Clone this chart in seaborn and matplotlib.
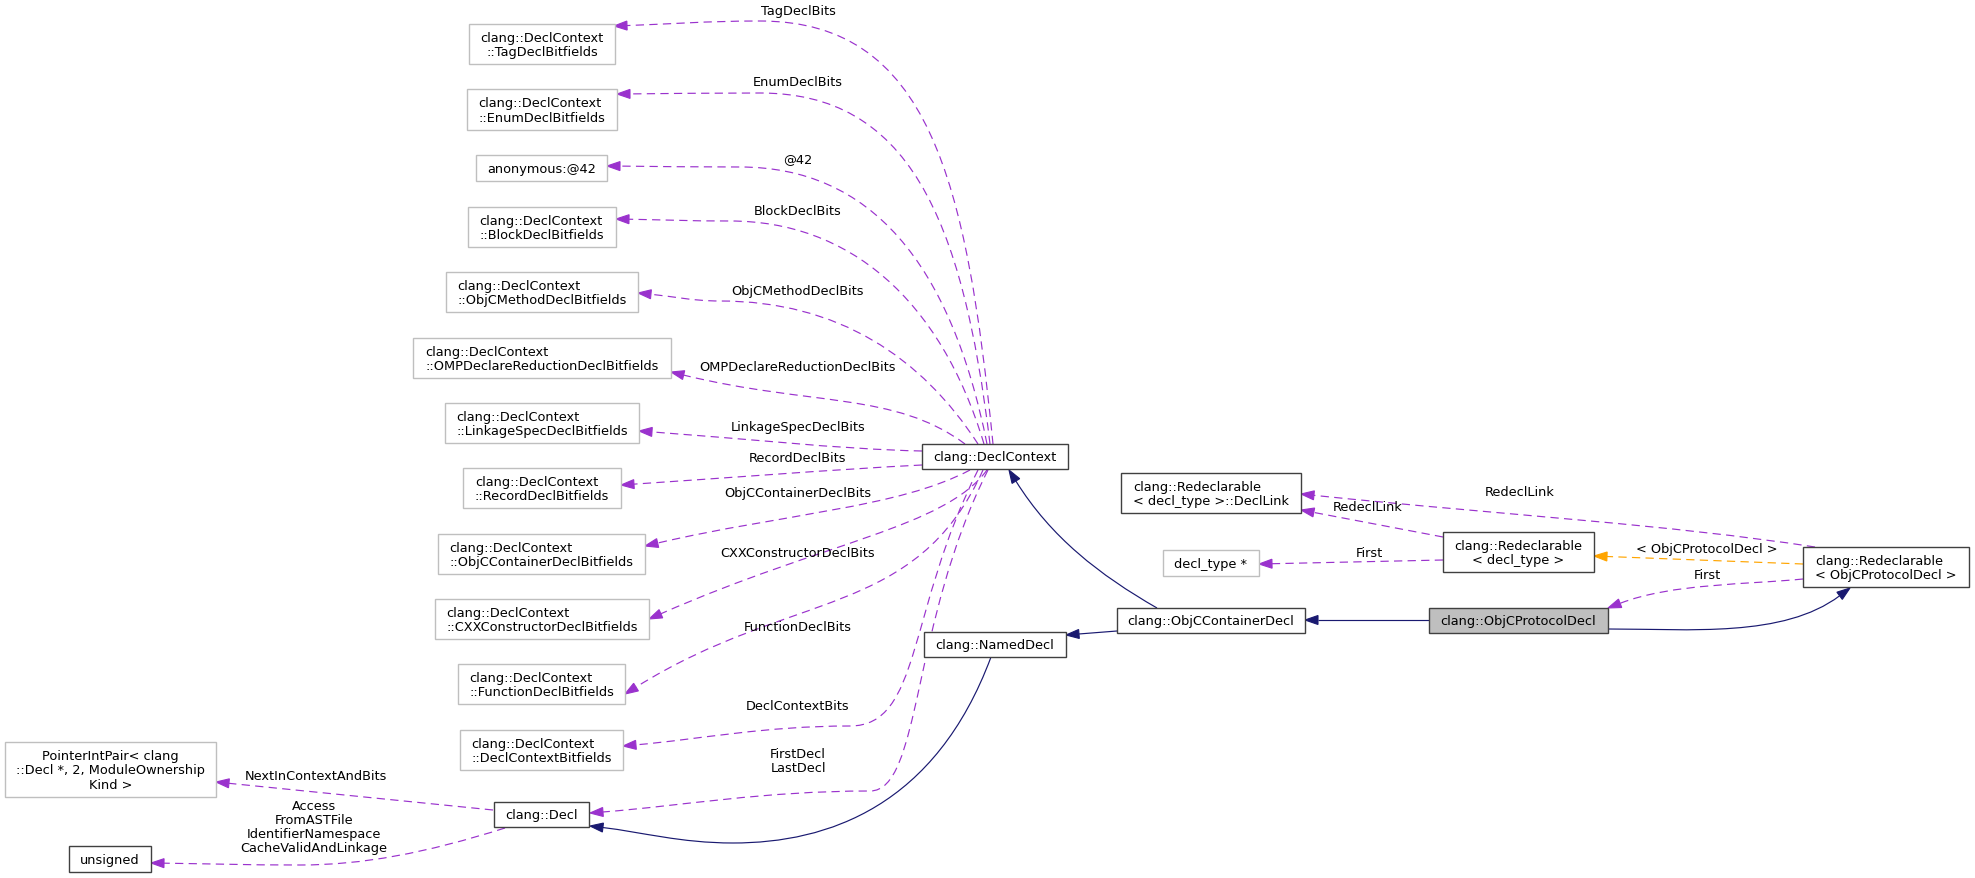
import numpy as np
import matplotlib
matplotlib.use("Agg")
import matplotlib.pyplot as plt
from matplotlib.path import Path
from matplotlib.patches import PathPatch, Polygon, Rectangle
import seaborn as sns

sns.set_theme(style="white")
plt.rcParams['font.family'] = ['DejaVu Sans']

# ---- graph content ----
node_ids = ['tag', 'enum', 'anon', 'block', 'objcmethod', 'omp', 'linkage', 'record',
            'objccontbits', 'cxxctor', 'function', 'dcbits', 'pip', 'unsigned', 'decl',
            'declcontext', 'nameddecl', 'decllink', 'decltype', 'objccont', 'redecl_t',
            'protocol', 'redecl_p']
node_labels = ['clang::DeclContext\n::TagDeclBitfields',
               'clang::DeclContext\n::EnumDeclBitfields',
               'anonymous:@42',
               'clang::DeclContext\n::BlockDeclBitfields',
               'clang::DeclContext\n::ObjCMethodDeclBitfields',
               'clang::DeclContext\n::OMPDeclareReductionDeclBitfields',
               'clang::DeclContext\n::LinkageSpecDeclBitfields',
               'clang::DeclContext\n::RecordDeclBitfields',
               'clang::DeclContext\n::ObjCContainerDeclBitfields',
               'clang::DeclContext\n::CXXConstructorDeclBitfields',
               'clang::DeclContext\n::FunctionDeclBitfields',
               'clang::DeclContext\n::DeclContextBitfields',
               'PointerIntPair< clang\n::Decl *, 2, ModuleOwnership\nKind >',
               'unsigned',
               'clang::Decl',
               'clang::DeclContext',
               'clang::NamedDecl',
               'clang::Redeclarable\n< decl_type >::DeclLink',
               'decl_type *',
               'clang::ObjCContainerDecl',
               'clang::Redeclarable\n< decl_type >',
               'clang::ObjCProtocolDecl',
               'clang::Redeclarable\n< ObjCProtocolDecl >']
node_kind = ['ext'] * 13 + ['doc', 'doc', 'doc', 'doc', 'doc', 'ext', 'doc', 'doc', 'self', 'doc']
centered_nodes = ['tag', 'pip', 'redecl_t']

edge_tail = ['declcontext'] * 13 + ['decl', 'decl', 'redecl_t', 'redecl_t', 'redecl_p', 'redecl_p',
                                    'redecl_p', 'protocol', 'objccont', 'objccont', 'nameddecl',
                                    'protocol']
edge_head = ['tag', 'enum', 'anon', 'block', 'objcmethod', 'omp', 'linkage', 'record',
             'objccontbits', 'cxxctor', 'function', 'dcbits', 'decl', 'pip', 'unsigned',
             'decllink', 'decltype', 'decllink', 'protocol', 'redecl_t', 'objccont',
             'declcontext', 'nameddecl', 'decl', 'redecl_p']
edge_labels = ['TagDeclBits', 'EnumDeclBits', '@42', 'BlockDeclBits', 'ObjCMethodDeclBits',
               'OMPDeclareReductionDeclBits', 'LinkageSpecDeclBits', 'RecordDeclBits',
               'ObjCContainerDeclBits', 'CXXConstructorDeclBits', 'FunctionDeclBits',
               'DeclContextBits', 'FirstDecl\nLastDecl', 'NextInContextAndBits',
               'Access\nFromASTFile\nIdentifierNamespace\nCacheValidAndLinkage',
               'RedeclLink', 'First', 'RedeclLink', 'First', '< ObjCProtocolDecl >',
               '', '', '', '', '']
edge_kind = ['member'] * 19 + ['template'] + ['inherit'] * 5

# ---- layout (pixel space of the 1975x879 canvas) ----
boxes = {
    'tag': (469, 25, 615, 65), 'enum': (467, 90, 617, 131), 'anon': (476, 156, 607, 182),
    'block': (468, 208, 616, 248), 'objcmethod': (446, 273, 638, 313),
    'omp': (413, 339, 671, 379), 'linkage': (445, 404, 639, 444),
    'record': (463, 469, 621, 509), 'objccontbits': (438, 535, 645, 575),
    'cxxctor': (435, 600, 649, 640), 'function': (458, 665, 625, 705),
    'dcbits': (460, 731, 623, 771), 'pip': (5, 743, 216, 798),
    'unsigned': (69, 847, 151, 873), 'decl': (494, 803, 589, 828),
    'declcontext': (922, 445, 1068, 470), 'nameddecl': (924, 633, 1066, 658),
    'decllink': (1121, 474, 1301, 514), 'decltype': (1163, 551, 1259, 577),
    'objccont': (1117, 609, 1305, 634), 'redecl_t': (1443, 533, 1594, 573),
    'protocol': (1429, 609, 1608, 634), 'redecl_p': (1803, 548, 1969, 588),
}

# edge routing: start, tip, start direction, arrow direction, via point, factors
routes = [
    dict(start=(993, 445), tip=(614, 27), sdir=(-0.1, -1), via=(760, 22), k1=0.55, kv=0.35),
    dict(start=(990, 445), tip=(617, 95), sdir=(-0.12, -1), via=(760, 94), k1=0.55, kv=0.35),
    dict(start=(987, 445), tip=(607, 167), sdir=(-0.2, -1), via=(740, 168), k1=0.5, kv=0.35),
    dict(start=(984, 445), tip=(616, 220), sdir=(-0.3, -1), via=(730, 222), k1=0.45, kv=0.35),
    dict(start=(978, 445), tip=(638, 294), sdir=(-0.55, -0.85), via=(720, 302), k1=0.35, kv=0.4),
    dict(start=(965, 445), tip=(671, 373), sdir=(-0.8, -0.6), via=None, k1=0.3, k2=0.45),
    dict(start=(922, 452), tip=(639, 432), sdir=(-1, -0.02), via=None, k1=0.3, k2=0.3),
    dict(start=(922, 466), tip=(621, 486), sdir=(-1, 0.05), via=None, k1=0.3, k2=0.3),
    dict(start=(970, 471), tip=(645, 547), sdir=(-0.88, 0.47), via=None, k1=0.25, k2=0.4),
    dict(start=(987, 471), tip=(649, 620), sdir=(-0.59, 0.81), via=None, k1=0.2, k2=0.5),
    dict(start=(983, 471), tip=(625, 695), sdir=(-0.41, 0.91), via=None, k1=0.4, k2=0.45),
    dict(start=(978, 471), tip=(623, 747), sdir=(-0.45, 0.89), via=(850, 727), k1=0.55, kv=0.25),
    dict(start=(988, 471), tip=(590, 814), sdir=(-0.45, 0.89), via=(870, 792), k1=0.5, kv=0.15),
    dict(start=(493, 811), tip=(216, 783)),
    dict(start=(505, 829), tip=(151, 864), sdir=(-0.95, 0.3), via=(300, 866), k1=0.4, kv=0.3),
    dict(start=(1443, 538), tip=(1301, 511)),
    dict(start=(1443, 561), tip=(1259, 565)),
    dict(start=(1815, 548), tip=(1301, 495), sdir=(-0.98, -0.15), via=None, k1=0.3, k2=0.4),
    dict(start=(1803, 580), tip=(1608, 609), sdir=(-0.99, 0.1), via=None, k1=0.3, k2=0.3,
         adir=(-0.93, 0.36)),
    dict(start=(1803, 565), tip=(1594, 557)),
    dict(start=(1429, 621), tip=(1305, 621)),
    dict(start=(1157, 609), tip=(1009, 471), sdir=(-0.87, -0.5), via=None, k1=0.35, k2=0.35,
         adir=(-0.53, -0.85)),
    dict(start=(1117, 632), tip=(1066, 636)),
    dict(start=(991, 658), tip=(590, 827), sdir=(-0.35, 0.94), via=(733, 844), k1=0.5, kv=0.3),
    dict(start=(1608, 630), tip=(1850, 589), sdir=(1, 0), via=None, k1=0.35, k2=0.3,
         adir=(0.8, -0.6)),
]
label_xy = [(798, 12), (798, 83), (798, 160), (798, 212), (798, 292), (798, 368), (798, 428),
            (798, 459), (798, 494), (798, 554), (798, 628), (798, 707), (798, 762), (316, 777),
            (314, 828), (1368, 508), (1369, 554), (1520, 493), (1707, 576), (1707, 550)]

colors = {'member': '#9a32cd', 'template': '#ffa500', 'inherit': '#191970'}
border = {'ext': '#bfbfbf', 'doc': '#404040', 'self': '#404040'}
FS = 9.3
ARROW_L, ARROW_W = 13.0, 4.5

fig = plt.figure(figsize=(19.75, 8.79), dpi=100)
ax = fig.add_axes([0, 0, 1, 1])
ax.set_xlim(0, 1975)
ax.set_ylim(879, 0)
ax.axis('off')


def unit(v):
    v = np.asarray(v, float)
    return v / np.hypot(*v)


def edge_path(r):
    start = np.array(r['start'], float)
    tip = np.array(r['tip'], float)
    via = r.get('via')
    sdir = r.get('sdir')
    if 'adir' in r:
        adir = unit(r['adir'])
    elif via is not None:
        adir = unit(tip - np.array(via, float))
    else:
        adir = unit(tip - start)
    base = tip - adir * ARROW_L
    if sdir is None:
        verts, codes = [start, base], [Path.MOVETO, Path.LINETO]
    elif via is None:
        d = np.hypot(*(base - start))
        c1 = start + unit(sdir) * r['k1'] * d
        c2 = base - adir * r['k2'] * d
        verts = [start, c1, c2, base]
        codes = [Path.MOVETO] + [Path.CURVE4] * 3
    else:
        via = np.array(via, float)
        d1 = np.hypot(*(via - start))
        d2 = np.hypot(*(base - via))
        c1 = start + unit(sdir) * r['k1'] * d1
        c2 = via + np.array([1.0, 0.0]) * r['kv'] * d1
        c3 = via - np.array([1.0, 0.0]) * 0.4 * d2
        c4 = base - adir * 0.3 * d2
        verts = [start, c1, c2, via, c3, c4, base]
        codes = [Path.MOVETO] + [Path.CURVE4] * 6
    return Path(verts, codes), tip, adir


# edges first so boxes sit on top
for i, r in enumerate(routes):
    col = colors[edge_kind[i]]
    path, tip, adir = edge_path(r)
    ls = '-' if edge_kind[i] == 'inherit' else (0, (7, 4.5))
    ax.add_patch(PathPatch(path, facecolor='none', edgecolor=col, lw=0.85,
                           linestyle=ls, zorder=1))
    perp = np.array([-adir[1], adir[0]])
    b = tip - adir * ARROW_L
    ax.add_patch(Polygon([tip, b + perp * ARROW_W, b - perp * ARROW_W], closed=True,
                         facecolor=col, edgecolor=col, lw=0.8, zorder=2))
    if i < len(label_xy) and edge_labels[i]:
        lx, ly = label_xy[i]
        ax.text(lx, ly, edge_labels[i], ha='center', va='center', fontsize=FS,
                color='black', linespacing=1.1, multialignment='center', zorder=3)

for nid, lab, kind in zip(node_ids, node_labels, node_kind):
    x0, y0, x1, y1 = boxes[nid]
    face = '#bfbfbf' if kind == 'self' else 'white'
    ax.add_patch(Rectangle((x0, y0), x1 - x0, y1 - y0, facecolor=face,
                           edgecolor=border[kind], lw=1.0, zorder=4))
    align = 'center' if nid in centered_nodes else 'left'
    ax.text((x0 + x1) / 2, (y0 + y1) / 2 + 0.5, lab, ha='center', va='center',
            fontsize=FS, color='black', multialignment=align, linespacing=1.15, zorder=5)

fig.savefig('out.png', dpi=100, facecolor='white')
